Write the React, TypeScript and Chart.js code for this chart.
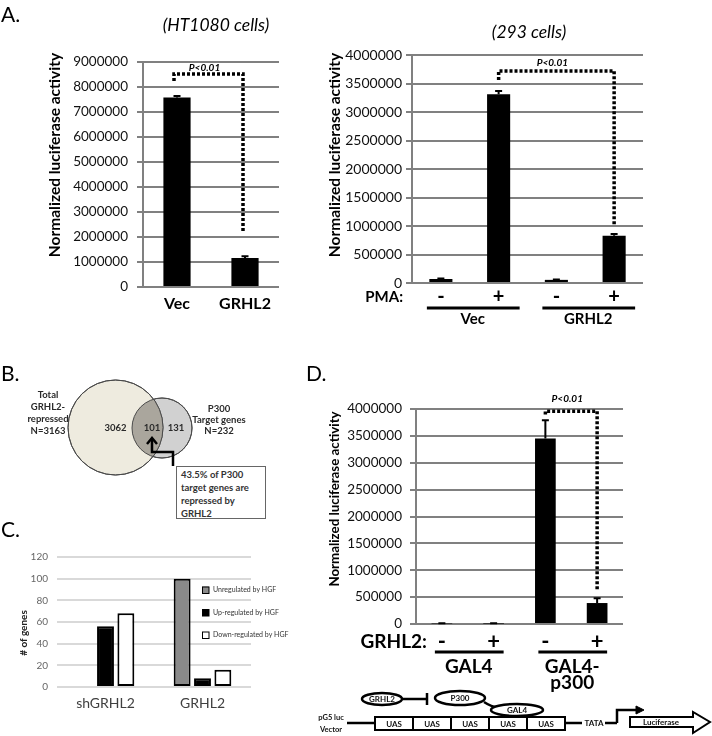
import React, { useEffect, useRef } from 'react';
import { Chart, registerables } from 'chart.js';

Chart.register(...registerables);

const FONT = 'Lato, "Open Sans", "DejaVu Sans", sans-serif';
Chart.defaults.font.family = FONT;

// ---------------- data ----------------
// Panel A (HT1080 cells)
const ht1080Labels = ['Vec', 'GRHL2'];
const ht1080Values = [7580000, 1160000];
const ht1080Errors = [60000, 70000];
const ht1080Max = 9000000;
const ht1080Step = 1000000;
const ht1080Sig = { from: 0, to: 1, top: 8520000, leftEnd: 8240000, rightEnd: 2160000, text: 'P<0.01' };

// Panel A (293 cells)
const pmaSigns = ['-', '+', '-', '+'];
const cells293Groups = ['Vec', 'GRHL2'];
const cells293Values = [70000, 3310000, 55000, 830000];
const cells293Errors = [10000, 60000, 8000, 30000];
const cells293Max = 4000000;
const cells293Step = 500000;
const cells293Sig = { from: 1, to: 3, top: 3720000, leftEnd: 3560000, rightEnd: 1000000, text: 'P<0.01' };

// Panel B (Venn)
const vennNames = [['Total', 'GRHL2-', 'repressed'], ['P300', 'Target genes']];
const vennTotals = [3163, 232];
const vennOnly = [3062, 131];
const vennShared = 101;
const vennNote = ['43.5% of P300', 'target genes are', 'repressed by', 'GRHL2'];

// Panel C
const hgfCategories = ['shGRHL2', 'GRHL2'];
const hgfSeriesNames = ['Unregulated by HGF', 'Up-regulated by HGF', 'Down-regulated by HGF'];
const hgfUnregulated = [1, 100];
const hgfUp = [56, 8];
const hgfDown = [68, 16];
const hgfMax = 120;
const hgfStep = 20;

// Panel D
const grhl2Signs = ['-', '+', '-', '+'];
const gal4Groups = ['GAL4', 'GAL4-\np300'];
const gal4Values = [10000, 8000, 3450000, 390000];
const gal4Errors = [5000, 5000, 340000, 90000];
const gal4Max = 4000000;
const gal4Step = 500000;
const gal4Sig = { from: 2, to: 3, top: 3960000, leftEnd: 3900000, rightEnd: 610000, text: 'P<0.01' };

// ---------------- layout (geometry only) ----------------
const VENN_W = 300;
const VENN_H = 160;
const VENN_PAD = 50;
const VENN_GEOM = { big: { x: 115.5, y: 57.5, r: 47.5 }, small: { x: 162, y: 58, r: 30 } };

// ---------------- plugins ----------------
function errorBarPlugin(errors: number[], cap: number) {
  return {
    id: 'errorBars',
    afterDatasetsDraw(chart: any) {
      const { ctx, scales: { y } } = chart;
      const meta = chart.getDatasetMeta(0);
      const vals = chart.data.datasets[0].data as number[];
      ctx.save();
      ctx.strokeStyle = '#000';
      ctx.lineWidth = 2;
      meta.data.forEach((bar: any, i: number) => {
        const top = y.getPixelForValue(vals[i] + errors[i]);
        ctx.beginPath();
        ctx.moveTo(bar.x, bar.y);
        ctx.lineTo(bar.x, top);
        ctx.moveTo(bar.x - cap, top);
        ctx.lineTo(bar.x + cap, top);
        ctx.stroke();
      });
      ctx.restore();
    },
  };
}

function sigPlugin(sig: any, dxL: number, dxR: number, labelDy: number) {
  return {
    id: 'sig',
    afterDatasetsDraw(chart: any) {
      const { ctx, scales: { x, y } } = chart;
      const xl = x.getPixelForValue(sig.from) + dxL;
      const xr = x.getPixelForValue(sig.to) + dxR;
      const yt = y.getPixelForValue(sig.top);
      ctx.save();
      ctx.strokeStyle = '#000';
      ctx.lineWidth = 3.5;
      ctx.setLineDash([3, 2]);
      ctx.beginPath();
      ctx.moveTo(xl, y.getPixelForValue(sig.leftEnd));
      ctx.lineTo(xl, yt);
      ctx.lineTo(xr, yt);
      ctx.lineTo(xr, y.getPixelForValue(sig.rightEnd));
      ctx.stroke();
      ctx.setLineDash([]);
      ctx.font = `italic bold 10px ${FONT}`;
      ctx.fillStyle = '#000';
      ctx.textAlign = 'center';
      ctx.textBaseline = 'alphabetic';
      ctx.fillText(sig.text, (xl + xr) / 2 - 4, yt - labelDy);
      ctx.restore();
    },
  };
}

function simpleXLabels(labels: string[], font: string, dy: number, color = '#000') {
  return {
    id: 'xlabels',
    afterDraw(chart: any) {
      const { ctx, chartArea, scales: { x } } = chart;
      ctx.save();
      ctx.font = font;
      ctx.fillStyle = color;
      ctx.textAlign = 'center';
      ctx.textBaseline = 'middle';
      labels.forEach((l, i) => ctx.fillText(l, x.getPixelForValue(i), chartArea.bottom + dy));
      ctx.restore();
    },
  };
}

function signRowPlugin(o: any) {
  return {
    id: 'signRow',
    afterDraw(chart: any) {
      const { ctx, chartArea, scales: { x } } = chart;
      const b = chartArea.bottom;
      ctx.save();
      ctx.fillStyle = '#000';
      ctx.strokeStyle = '#000';
      ctx.textBaseline = 'middle';
      ctx.font = o.prefixFont;
      ctx.textAlign = 'right';
      ctx.fillText(o.prefix, chartArea.left + o.prefixDx, b + o.signDy);
      ctx.font = o.signFont;
      ctx.textAlign = 'center';
      o.signs.forEach((s: string, i: number) => ctx.fillText(s, x.getPixelForValue(i), b + o.signDy));
      ctx.lineWidth = 3;
      o.groups.forEach((g: string, gi: number) => {
        const a = x.getPixelForValue(gi * 2);
        const c = x.getPixelForValue(gi * 2 + 1);
        ctx.beginPath();
        ctx.moveTo(a + o.lineExt[0], b + o.lineDy);
        ctx.lineTo(c + o.lineExt[1], b + o.lineDy);
        ctx.stroke();
        ctx.font = o.groupFont;
        g.split('\n').forEach((line: string, li: number) =>
          ctx.fillText(line, (a + c) / 2 + o.groupDx, b + o.groupDy + li * o.groupLineH)
        );
      });
      ctx.restore();
    },
  };
}

function luciferaseConfig(o: any) {
  return {
    type: 'bar',
    data: {
      labels: o.labels,
      datasets: [
        {
          data: o.values,
          backgroundColor: '#000',
          borderWidth: 0,
          categoryPercentage: 1,
          barPercentage: 0.4,
        },
      ],
    },
    options: {
      responsive: false,
      animation: false,
      devicePixelRatio: 1,
      layout: { padding: o.padding },
      plugins: { legend: { display: false }, tooltip: { enabled: false } },
      scales: {
        x: {
          grid: { display: false, drawTicks: false },
          border: { display: false },
          ticks: { display: false },
        },
        y: {
          min: 0,
          max: o.max,
          afterFit: (s: any) => {
            s.width = o.yWidth;
          },
          ticks: {
            stepSize: o.step,
            autoSkip: false,
            callback: (v: any) => String(v),
            font: { family: FONT, size: o.tickSize },
            color: '#111',
            padding: o.tickPad,
          },
          grid: { color: '#808080', lineWidth: 2, tickLength: 6, drawTicks: true },
          border: { display: true, color: '#808080', width: 2 },
        },
      },
    },
    plugins: o.plugins,
  };
}

function makeHT1080() {
  return luciferaseConfig({
    labels: ht1080Labels,
    values: ht1080Values,
    max: ht1080Max,
    step: ht1080Step,
    padding: { left: 0, top: 22, right: 21, bottom: 43 },
    yWidth: 143,
    tickSize: 13.5,
    tickPad: 9,
    plugins: [
      errorBarPlugin(ht1080Errors, 3.5),
      sigPlugin(ht1080Sig, -3, -2, 3),
      simpleXLabels(ht1080Labels, `bold 16px ${FONT}`, 17),
    ],
  });
}

function make293() {
  return luciferaseConfig({
    labels: pmaSigns,
    values: cells293Values,
    max: cells293Max,
    step: cells293Step,
    padding: { left: 0, top: 25, right: 17, bottom: 47 },
    yWidth: 112,
    tickSize: 14,
    tickPad: 4,
    plugins: [
      errorBarPlugin(cells293Errors, 3.5),
      sigPlugin(cells293Sig, 0, 0, 4.5),
      signRowPlugin({
        prefix: 'PMA:',
        prefixFont: `bold 15px ${FONT}`,
        prefixDx: -9,
        signs: pmaSigns,
        signFont: `bold 20px ${FONT}`,
        signDy: 14,
        lineDy: 25,
        lineExt: [-14, 21],
        groups: cells293Groups,
        groupFont: `bold 15px ${FONT}`,
        groupDy: 36,
        groupDx: 3,
        groupLineH: 16,
      }),
    ],
  });
}

function makeGAL4() {
  return luciferaseConfig({
    labels: grhl2Signs,
    values: gal4Values,
    max: gal4Max,
    step: gal4Step,
    padding: { left: 0, top: 39, right: 37, bottom: 71 },
    yWidth: 116,
    tickSize: 13.5,
    tickPad: 8,
    plugins: [
      errorBarPlugin(gal4Errors, 3.5),
      sigPlugin(gal4Sig, 0, 0, 9.5),
      signRowPlugin({
        prefix: 'GRHL2:',
        prefixFont: `bold 19px ${FONT}`,
        prefixDx: 11,
        signs: grhl2Signs,
        signFont: `bold 22px ${FONT}`,
        signDy: 18,
        lineDy: 28,
        lineExt: [-7, 10],
        groups: gal4Groups,
        groupFont: `bold 19px ${FONT}`,
        groupDy: 43,
        groupDx: 1,
        groupLineH: 16,
      }),
    ],
  });
}

function makeHGF() {
  const fills = ['#8a8a8a', '#000000', '#ffffff'];
  const series = [hgfUnregulated, hgfUp, hgfDown];
  return {
    type: 'bar',
    data: {
      labels: hgfCategories,
      datasets: series.map((d, i) => ({
        label: hgfSeriesNames[i],
        data: d,
        backgroundColor: fills[i],
        borderColor: '#000',
        borderWidth: 2,
        borderSkipped: false,
        categoryPercentage: 0.63,
        barPercentage: 0.83,
      })),
    },
    options: {
      responsive: false,
      animation: false,
      devicePixelRatio: 1,
      layout: { padding: { left: 0, top: 17, right: 39, bottom: 33 } },
      plugins: { legend: { display: false }, tooltip: { enabled: false } },
      scales: {
        x: {
          grid: { display: false, drawTicks: false },
          border: { display: false },
          ticks: { display: false },
        },
        y: {
          min: 0,
          max: hgfMax,
          afterFit: (s: any) => {
            s.width = 57;
          },
          ticks: { stepSize: hgfStep, font: { family: FONT, size: 10 }, color: '#666', padding: 9 },
          grid: { color: '#d9d9d9', lineWidth: 2, drawTicks: false },
          border: { display: false },
        },
      },
    },
    plugins: [
      simpleXLabels(hgfCategories, `14px ${FONT}`, 16, '#404040'),
      {
        id: 'hgfLegend',
        afterDraw(chart: any) {
          const { ctx, chartArea } = chart;
          ctx.save();
          chart.data.datasets.forEach((ds: any, i: number) => {
            const cx = chartArea.left + 145;
            const cy = chartArea.top + 33 + i * 22.5;
            ctx.fillStyle = ds.backgroundColor;
            ctx.fillRect(cx, cy - 3.5, 7, 7);
            ctx.strokeStyle = '#000';
            ctx.lineWidth = 1;
            ctx.strokeRect(cx + 0.5, cy - 3, 6.5, 6.5);
            ctx.fillStyle = '#333';
            ctx.font = `7px ${FONT}`;
            ctx.textAlign = 'left';
            ctx.textBaseline = 'middle';
            ctx.fillText(ds.label, cx + 11, cy);
          });
          ctx.restore();
        },
      },
    ],
  };
}

function makeVenn() {
  const g = VENN_GEOM;
  return {
    type: 'bubble',
    data: {
      datasets: [
        {
          data: [{ x: g.big.x, y: g.big.y, r: g.big.r }],
          backgroundColor: '#eeebdf',
          borderColor: '#4a4a4a',
          borderWidth: 1,
          clip: false,
        },
        {
          data: [{ x: g.small.x, y: g.small.y, r: g.small.r }],
          backgroundColor: '#d1d1d1',
          borderColor: '#4a4a4a',
          borderWidth: 1,
          clip: false,
        },
      ],
    },
    options: {
      responsive: false,
      animation: false,
      devicePixelRatio: 1,
      layout: { padding: VENN_PAD },
      plugins: { legend: { display: false }, tooltip: { enabled: false } },
      scales: {
        x: { display: false, min: VENN_PAD, max: VENN_W - VENN_PAD },
        y: { display: false, min: VENN_PAD, max: VENN_H - VENN_PAD, reverse: true },
      },
    },
    plugins: [
      {
        id: 'vennDetail',
        afterDatasetsDraw(chart: any) {
          const { ctx } = chart;
          const a = chart.getDatasetMeta(0).data[0];
          const b = chart.getDatasetMeta(1).data[0];
          const ra = a.options.radius;
          const rb = b.options.radius;
          ctx.save();
          // overlap
          ctx.save();
          ctx.beginPath();
          ctx.arc(a.x, a.y, ra, 0, Math.PI * 2);
          ctx.clip();
          ctx.beginPath();
          ctx.arc(b.x, b.y, rb, 0, Math.PI * 2);
          ctx.fillStyle = '#aaa69d';
          ctx.fill();
          ctx.restore();
          ctx.strokeStyle = '#4a4a4a';
          ctx.lineWidth = 1;
          ctx.beginPath();
          ctx.arc(a.x, a.y, ra, 0, Math.PI * 2);
          ctx.stroke();
          ctx.beginPath();
          ctx.arc(b.x, b.y, rb, 0, Math.PI * 2);
          ctx.stroke();
          // numbers
          ctx.fillStyle = '#2a2a2a';
          ctx.font = `bold 9.5px ${FONT}`;
          ctx.textAlign = 'center';
          ctx.textBaseline = 'middle';
          ctx.fillText(String(vennOnly[0]), a.x, a.y + 0.5);
          ctx.fillText(String(vennShared), b.x - 10, a.y + 0.5);
          ctx.fillText(String(vennOnly[1]), b.x + 14, a.y + 0.5);
          // side labels
          const left = [...vennNames[0], `N=${vennTotals[0]}`];
          left.forEach((t, i) => ctx.fillText(t, a.x - ra - 20, a.y - 33 + i * 12.3));
          const right = [...vennNames[1], `N=${vennTotals[1]}`];
          right.forEach((t, i) => ctx.fillText(t, b.x + rb + 27, a.y - 19 + i * 11.3));
          // arrow from note box
          ctx.strokeStyle = '#000';
          ctx.lineWidth = 2.5;
          ctx.lineJoin = 'miter';
          const ax = b.x - 10;
          const bx = b.x + 11;
          ctx.beginPath();
          ctx.moveTo(bx, a.y + 38.5);
          ctx.lineTo(bx, a.y + 24.5);
          ctx.lineTo(ax, a.y + 24.5);
          ctx.lineTo(ax, a.y + 11.5);
          ctx.stroke();
          ctx.beginPath();
          ctx.moveTo(ax - 5, a.y + 16.5);
          ctx.lineTo(ax, a.y + 10.5);
          ctx.lineTo(ax + 5, a.y + 16.5);
          ctx.stroke();
          ctx.restore();
        },
      },
    ],
  };
}

// ---------------- components ----------------
function ChartBox({ x, y, w, h, make }: { x: number; y: number; w: number; h: number; make: () => any }) {
  const ref = useRef<HTMLCanvasElement>(null);
  useEffect(() => {
    const c = new Chart(ref.current as HTMLCanvasElement, make() as any);
    return () => c.destroy();
  }, []);
  return (
    <canvas
      ref={ref}
      width={w}
      height={h}
      style={{ position: 'absolute', left: x, top: y, width: w, height: h }}
    />
  );
}

function T({ x, y, s, children, bold, italic, align = 'center', color = '#000', rotate }: any) {
  const tx = align === 'center' ? '-50%' : align === 'right' ? '-100%' : '0';
  return (
    <div
      style={{
        position: 'absolute',
        left: x,
        top: y,
        transform: `translate(${tx}, -50%)${rotate ? ' rotate(-90deg)' : ''}`,
        fontFamily: FONT,
        fontSize: s,
        fontWeight: bold ? 700 : 400,
        fontStyle: italic ? 'italic' : 'normal',
        color,
        whiteSpace: 'nowrap',
        lineHeight: 1,
      }}
    >
      {children}
    </div>
  );
}

function Schematic() {
  const uas = [0, 1, 2, 3, 4];
  return (
    <svg width={712} height={736} style={{ position: 'absolute', left: 0, top: 0 }}>
      <g stroke="#000" strokeWidth={2.5} fill="#fff">
        <line x1={347} y1={723} x2={375} y2={723} />
        <line x1={565} y1={723} x2={582} y2={723} />
        <line x1={605} y1={723} x2={617} y2={723} />
        <polyline points="617,723 617,710 637,710" fill="none" />
        <polygon points="636,706 644,710 636,714" fill="#000" strokeWidth={1} />
        <line x1={403} y1={699} x2={427} y2={699} />
        <line x1={427} y1={693} x2={427} y2={705} />
        <path d="M484,702 Q493,708 500,707" fill="none" />
        <ellipse cx={382} cy={699} rx={20} ry={6} />
        <ellipse cx={460} cy={698} rx={25} ry={7} />
        <ellipse cx={517} cy={710} rx={26} ry={6} />
        {uas.map((i) => (
          <rect key={i} x={375 + i * 38} y={717} width={38} height={13} strokeWidth={2} />
        ))}
        <polygon points="630,717 693,717 693,712 710,722 693,733 693,727 630,727" strokeWidth={2} />
      </g>
      <g
        fontFamily={FONT}
        fontWeight="bold"
        fontSize={8}
        textAnchor="middle"
        dominantBaseline="central"
        fill="#111"
      >
        <text x={382} y={699}>GRHL2</text>
        <text x={460} y={698}>P300</text>
        <text x={517} y={710}>GAL4</text>
        {uas.map((i) => (
          <text key={i} x={394 + i * 38} y={723.5}>UAS</text>
        ))}
        <text x={594} y={723}>TATA</text>
        <text x={661} y={722}>Luciferase</text>
        <text x={331} y={717} fontSize={7.5}>pG5 luc</text>
        <text x={331} y={729} fontSize={7.5}>Vector</text>
      </g>
    </svg>
  );
}

export default function App() {
  return (
    <div
      style={{
        position: 'absolute',
        left: 0,
        top: 0,
        width: 712,
        height: 736,
        overflow: 'hidden',
        background: '#fff',
      }}
    >
      <ChartBox x={0} y={40} w={300} h={290} make={makeHT1080} />
      <ChartBox x={300} y={30} w={360} h={300} make={make293} />
      <ChartBox x={0} y={370} w={VENN_W} h={VENN_H} make={makeVenn} />
      <ChartBox x={0} y={540} w={290} h={180} make={makeHGF} />
      <ChartBox x={300} y={370} w={360} h={325} make={makeGAL4} />
      <Schematic />

      <T x={1} y={13} s={21} align="left">A.</T>
      <T x={1} y={372} s={21} align="left">B.</T>
      <T x={1} y={528} s={21} align="left">C.</T>
      <T x={306} y={372} s={21} align="left">D.</T>

      <T x={216} y={25} s={17.5} italic>(HT1080 cells)</T>
      <T x={529} y={32} s={17.5} italic>(293 cells)</T>

      <T x={55} y={155} s={15.5} bold rotate>Normalized luciferase  activity</T>
      <T x={335} y={155} s={15.5} bold rotate>Normalized luciferase  activity</T>
      <T x={335} y={499} s={13.3} bold rotate>Normalized luciferase activity</T>
      <T x={23} y={633} s={10} bold rotate color="#222"># of genes</T>

      <div
        style={{
          position: 'absolute',
          left: 176,
          top: 466,
          width: 90,
          height: 53,
          border: '1px solid #666',
          boxSizing: 'border-box',
          padding: '1px 4px',
          fontFamily: FONT,
          fontSize: 9.5,
          fontWeight: 700,
          lineHeight: '13px',
          color: '#333',
          background: '#fff',
        }}
      >
        {vennNote.map((l, i) => (
          <div key={i}>{l}</div>
        ))}
      </div>
    </div>
  );
}
